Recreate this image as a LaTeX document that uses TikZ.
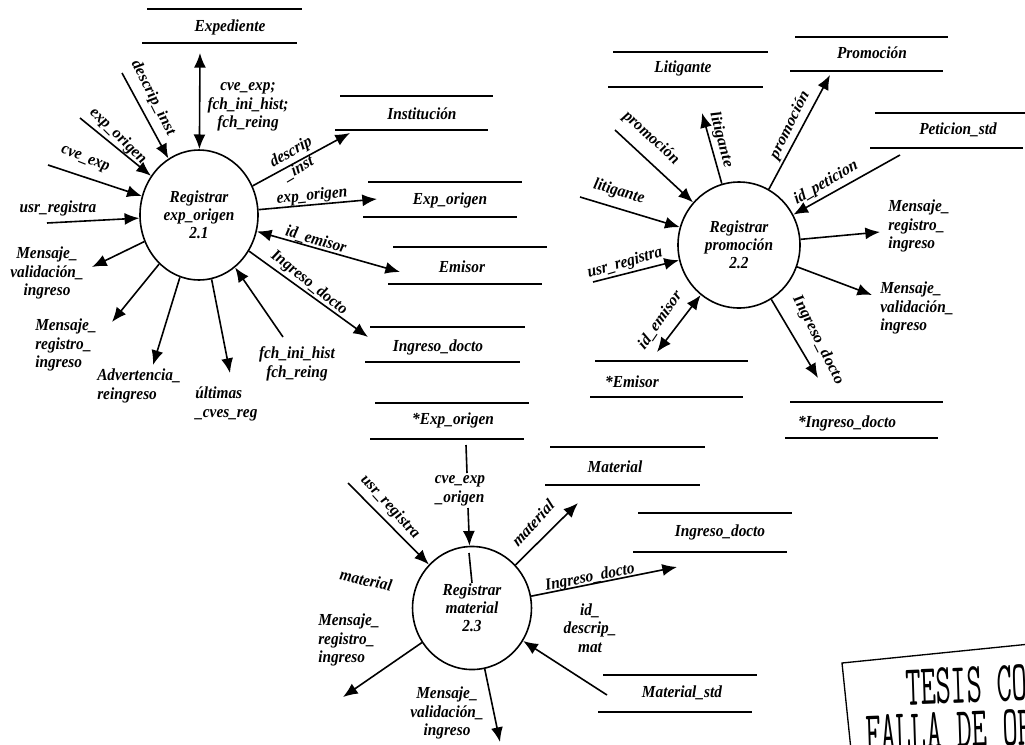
\documentclass[tikz,border=0pt]{standalone}
\usepackage{fontspec}
\setmainfont{Liberation Serif}
\usetikzlibrary{arrows.meta,shapes.geometric}
\newcommand\dstore[8]{%
  \draw[storeline] (#2,#4) -- (#3,#4);
  \draw[storeline] (#2-5,#5) -- (#3-5,#5);
  \node (#1) at (#6,#7) {#8};
}
\begin{document}
\begin{tikzpicture}[x=0.75pt,y=-0.75pt,
  every node/.style={font=\fontsize{11.5}{12.6}\selectfont\bfseries\itshape, inner sep=0pt, yscale=1.1},
  proc/.style={ellipse, draw, line width=1.2pt, align=center, font=\fontsize{11.5}{12.4}\selectfont\bfseries\itshape},
  flow/.style={line width=1.2pt, -{Latex[length=11pt,width=9pt]}},
  bflow/.style={line width=1.2pt, {Latex[length=11pt,width=9pt]}-{Latex[length=11pt,width=9pt]}},
  plain/.style={line width=1.2pt},
  storeline/.style={line width=1.1pt},
  lbl/.style={align=center},
  lbll/.style={align=left, anchor=west},
  stamp/.style={anchor=base west, rotate=2, xscale=0.57, font=\fontsize{39}{39}\selectfont\ttfamily},
]
\useasboundingbox (0,0) rectangle (1025,744);
\fill[white] (0,0) rectangle (1025,744);
\clip (0,0) rectangle (1025,744);

% ---------- processes ----------
\node[proc, minimum width=88.5pt, minimum height=88.6pt] (p21) at (199,215) {Registrar\\exp\_origen\\2.1};
\node[proc, minimum width=91.5pt, minimum height=85.9pt] (p22) at (739,245) {Registrar\\promoción\\2.2};
\node[proc, minimum width=89.2pt, minimum height=83.9pt] (p23) at (472,608) {Registrar\\material\\2.3};

% ---------- stores ----------
\dstore{sExp}{147}{302}{9}{43}{230}{27}{Expediente}
\dstore{sInst}{340}{493}{96}{130}{422}{114}{Institución}
\dstore{sExpO}{368}{522}{182}{217}{450}{200}{Exp\_origen}
\dstore{sEmi}{393}{547}{247}{284}{462}{267}{Emisor}
\dstore{sIng}{370}{525}{327}{362}{438}{347}{Ingreso\_docto}
\dstore{sExpO2}{375}{529}{403}{439}{453}{420}{*Exp\_origen}
\dstore{sLit}{613}{768}{52}{87}{683}{68}{Litigante}
\dstore{sProm}{795}{948}{37}{71}{872}{53}{Promoción}
\dstore{sPet}{875}{1028}{113}{148}{958}{130}{Peticion\_std}
\dstore{sEmi2}{595}{748}{361}{397}{632}{382}{*Emisor}
\dstore{sIng2}{790}{943}{402}{438}{847}{423}{*Ingreso\_docto}
\dstore{sMat}{550}{705}{447}{485}{615}{467}{Material}
\dstore{sIng3}{638}{792}{513}{552}{720}{532}{Ingreso\_docto}
\dstore{sMstd}{603}{757}{675}{712}{682}{693}{Material\_std}

% ---------- free ends ----------
\coordinate (a1) at (200,53);
\coordinate (a2) at (122,73);
\coordinate (a3) at (80,118);
\coordinate (a4) at (48,165);
\coordinate (a5) at (47,223);
\coordinate (a6) at (92,267);
\coordinate (a7) at (112,322);
\coordinate (a8) at (153,365);
\coordinate (a9) at (230,373);
\coordinate (a10) at (283,337);
\coordinate (a11) at (368,337);
\coordinate (a12) at (400,272);
\coordinate (a13) at (377,199);
\coordinate (a14) at (350,133);

\coordinate (b1) at (615,130);
\coordinate (b2) at (580,197);
\coordinate (b3) at (702,113);
\coordinate (b4) at (830,75);
\coordinate (b5) at (900,155);
\coordinate (b6) at (880,232);
\coordinate (b7) at (872,295);
\coordinate (b8) at (818,378);
\coordinate (b9) at (657,352);
\coordinate (b10) at (593,282);

\coordinate (c0a) at (466,445);
\coordinate (c0b) at (467,473);
\coordinate (c1) at (468,508);
\coordinate (c1a) at (469,553);
\coordinate (c1b) at (472,583);
\coordinate (c2) at (348,483);
\coordinate (c3) at (578,503);
\coordinate (c4) at (677,567);
\coordinate (c5) at (607,695);
\coordinate (c6) at (343,697);
\coordinate (c7) at (500,742);

% ---------- connectors 2.1 ----------
\draw[bflow] (a1) -- (p21);
\draw[flow] (a2) -- (p21);
\draw[flow] (a3) -- (p21);
\draw[flow] (a4) -- (p21);
\draw[flow] (a5) -- (p21);
\draw[flow] (p21) -- (a6);
\draw[flow] (p21) -- (a7);
\draw[flow] (p21) -- (a8);
\draw[flow] (p21) -- (a9);
\draw[flow] (a10) -- (p21);
\draw[flow] (p21) -- (a11);
\draw[bflow] (p21) -- (a12);
\draw[flow] (p21) -- (a13);
\draw[flow] (p21) -- (a14);

% ---------- connectors 2.2 ----------
\draw[flow] (b1) -- (p22);
\draw[flow] (b2) -- (p22);
\draw[flow] (p22) -- (b3);
\draw[flow] (p22) -- (b4);
\draw[flow] (b5) -- (p22);
\draw[flow] (p22) -- (b6);
\draw[flow] (p22) -- (b7);
\draw[flow] (p22) -- (b8);
\draw[bflow] (p22) -- (b9);
\draw[flow] (b10) -- (p22);

% ---------- connectors 2.3 ----------
\draw[plain] (c0a) -- (c0b);
\draw[flow] (c1) -- (p23);
\draw[plain] (c1a) -- (c1b);
\draw[flow] (c2) -- (p23);
\draw[flow] (p23) -- (c3);
\draw[flow] (p23) -- (c4);
\draw[flow] (c5) -- (p23);
\draw[flow] (p23) -- (c6);
\draw[flow] (p23) -- (c7);

% ---------- labels 2.1 ----------
\node[lbl] (l1) at (248,107) {cve\_exp;\\fch\_ini\_hist;\\fch\_reing};
\node[rotate=-61] (l2) at (153,98) {descrip\_inst};
\node[rotate=-42] (l3) at (118,136) {exp\_origen};
\node[rotate=-20] (l4) at (85,160) {cve\_exp};
\node (l5) at (58,208) {usr\_registra};
\node[lbl] (l6) at (47,273) {Mensaje\_\\validación\_\\ingreso};
\node[lbll] (l7) at (35,345) {Mensaje\_\\registro\_\\ingreso};
\node[lbll] (l8) at (97,386) {Advertencia\_\\reingreso};
\node[lbll] (l9) at (195,404) {últimas\\\_cves\_reg};
\node[lbl] (l10) at (297,364) {fch\_ini\_hist\\fch\_reing};
\node[rotate=-36] (l11) at (309,283) {Ingreso\_docto};
\node[rotate=-15] (l12) at (316,240) {id\_emisor};
\node[rotate=5] (l13) at (312,196) {exp\_origen};
\node[lbl, rotate=28] (l14) at (295,160) {descrip\\\_inst};

% ---------- labels 2.2 ----------
\node[rotate=-40] (m1) at (651,138) {promoción};
\node[rotate=-15] (m2) at (619,192) {litigante};
\node[rotate=-74] (m3) at (721,140) {litigante};
\node[rotate=62] (m4) at (790,125) {promoción};
\node[rotate=28] (m5) at (826,183) {id\_peticion};
\node[lbll] (m6) at (888,226) {Mensaje\_\\registro\_\\ingreso};
\node[lbll] (m7) at (880,308) {Mensaje\_\\validación\_\\ingreso};
\node[rotate=-61] (m8) at (818,340) {Ingreso\_docto};
\node[rotate=53] (m9) at (660,320) {id\_emisor};
\node[rotate=15] (m10) at (625,263) {usr\_registra};

% ---------- labels 2.3 ----------
\node[lbl] (n1) at (460,491) {cve\_exp\\\_origen};
\node[rotate=-45] (n2) at (390,507) {usr\_registra};
\node[rotate=-12] (n3) at (366,580) {material};
\node[lbll] (n4) at (318,640) {Mensaje\_\\registro\_\\ingreso};
\node[lbl] (n5) at (447,713) {Mensaje\_\\validación\_\\ingreso};
\node[rotate=45] (n6) at (533,523) {material};
\node[rotate=10] (n7) at (590,578) {Ingreso\_docto};
\node[lbl] (n8) at (590,628) {id\_\\descrip\_\\mat};

% ---------- stamp ----------
\draw[line width=1pt] (1030,644) -- (842,663) -- (851,750);
\node[stamp] (st1) at (906,705) {TESIS CON};
\node[stamp] (st2) at (866,751) {FALLA DE ORIGEN};
\end{tikzpicture}
\end{document}
